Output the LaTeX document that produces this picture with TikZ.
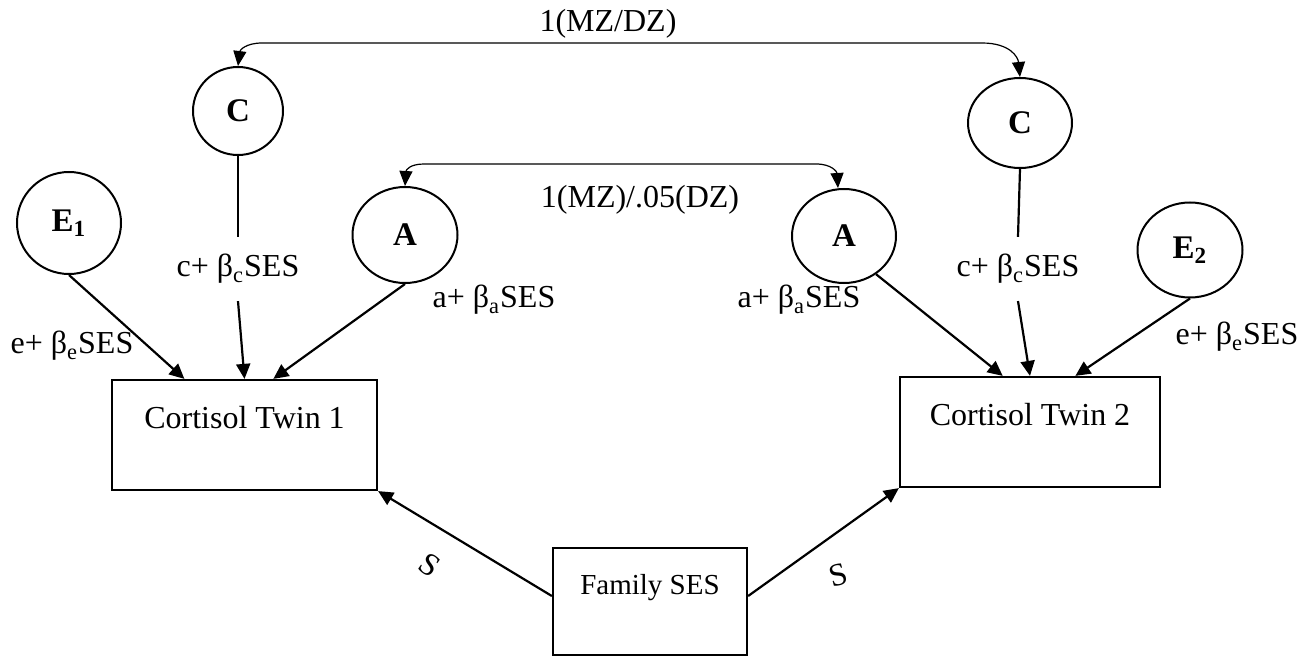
\documentclass[tikz,border=0pt]{standalone}
\usepackage{fontspec}
\setmainfont{Liberation Serif}
\usetikzlibrary{shapes.geometric,arrows.meta,calc}
\begin{document}
\begin{tikzpicture}[x=0.5pt,y=-0.5pt,
  latent/.style={draw, line width=1pt, ellipse, inner sep=0pt, font=\fontsize{16.5}{19}\selectfont\bfseries},
  obsbox/.style={draw, line width=1.1pt, rectangle, inner sep=0pt, font=\fontsize{16}{19}\selectfont, text height=24pt, text depth=31pt},
  lbl/.style={font=\fontsize{16}{19}\selectfont, inner sep=1pt},
  gaplbl/.style={font=\fontsize{16}{19}\selectfont, inner xsep=1pt, inner ysep=8.5pt},
  arr/.style={line width=1.1pt, -{Triangle[length=7.5pt,width=7pt]}},
  plain/.style={line width=1.1pt},
  covarr/.style={line width=0.6pt, {Triangle[length=7.5pt,width=6.5pt]}-{Triangle[length=7.5pt,width=6.5pt]}}
]
\useasboundingbox (0,0) rectangle (1303,658);

% latent variables
\node[latent, minimum width=45pt, minimum height=44pt] (C1) at (238,111) {C};
\node[latent, minimum width=52pt, minimum height=45pt] (C2) at (1020,123) {C};
\node[latent, minimum width=52pt, minimum height=51pt] (E1) at (69,223) {E\textsubscript{1}};
\node[latent, minimum width=52.5pt, minimum height=48pt] (A1) at (405,235) {A};
\node[latent, minimum width=52pt, minimum height=47pt] (A2) at (844,236) {A};
\node[latent, minimum width=52.5pt, minimum height=47.5pt] (E2) at (1190,250) {E\textsubscript{2}};

% observed
\node[obsbox, minimum width=132.5pt] (T1) at (244.5,435) {Cortisol Twin 1};
\node[obsbox, minimum width=130pt] (T2) at (1030,432) {Cortisol Twin 2};
\node[obsbox, minimum width=97pt, font=\fontsize{14.5}{17}\selectfont, text height=23pt, text depth=30.5pt] (F) at (650,601.5) {Family SES};

% covariance connectors
\coordinate (cl) at (262,43);
\coordinate (cr) at (982,43);
\coordinate (al) at (424,164);
\coordinate (ar) at (816,164);
\node[lbl] (lmz) at (608,24) {1(MZ/DZ)};
\node[lbl] (lmzdz) at (640,200) {1(MZ)/.05(DZ)};
\draw[covarr] (C1.north) .. controls +(2,-16) and +(-16,0) .. (cl) -- (cr) .. controls +(28,0) and +(-2,-20) .. (C2.north);
\draw[covarr] (A1.north) .. controls +(1,-16) and +(-14,0) .. (al) -- (ar) .. controls +(16,0) and +(-1,-16) .. ($(A2.north)+(-6,0)$);

% twin 1 paths
\node[gaplbl] (lc1) at (238,269) {c+ β\textsubscript{c}SES};
\draw[plain] (C1.south) -- (lc1.north);
\draw[arr] (lc1.south) -- (T1.north);
\draw[arr] (E1.south) -- ($(T1.north west)!0.275!(T1.north east)$);
\draw[arr] (A1.south) -- ($(T1.north west)!0.608!(T1.north east)$);
\node[lbl] (la1) at (494,300) {a+ β\textsubscript{a}SES};
\node[lbl] (le1) at (72,346) {e+ β\textsubscript{e}SES};

% twin 2 paths
\node[gaplbl] (lc2) at (1018,269) {c+ β\textsubscript{c}SES};
\draw[plain] (C2.south) -- (lc2.north);
\draw[arr] (lc2.south) -- (T2.north);
\draw[arr] (A2.-50) -- ($(T2.north west)!0.396!(T2.north east)$);
\draw[arr] (E2.south) -- ($(T2.north west)!0.673!(T2.north east)$);
\node[lbl] (la2) at (799,300) {a+ β\textsubscript{a}SES};
\node[lbl] (le2) at (1237,337) {e+ β\textsubscript{e}SES};

% family SES paths
\draw[arr] ($(F.north west)!0.45!(F.south west)$) -- (T1.south east);
\draw[arr] ($(F.north east)!0.45!(F.south east)$) -- (T2.south west);
\node[lbl, rotate=-35] (s1) at (430,565) {S};
\node[lbl, rotate=15] (s2) at (838,575) {S};
\end{tikzpicture}
\end{document}
